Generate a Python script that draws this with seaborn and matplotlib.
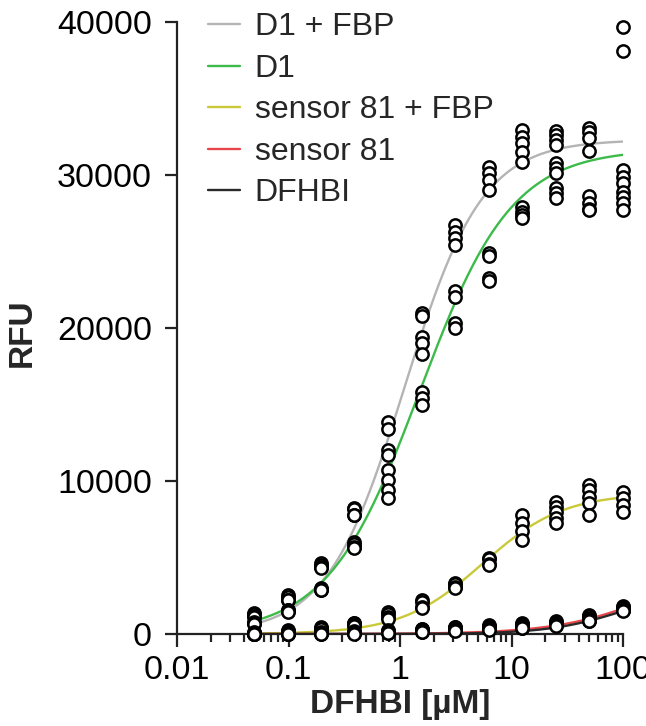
import numpy as np
import pandas as pd
import matplotlib
matplotlib.use("Agg")
import matplotlib.pyplot as plt
import seaborn as sns
from matplotlib.ticker import LogLocator, NullFormatter, FixedLocator, FixedFormatter

# ---------------- data ----------------
conc = [0.049, 0.098, 0.195, 0.39, 0.78, 1.5625, 3.125, 6.25, 12.5, 25, 50, 100]

series_names = ["D1 + FBP", "D1", "sensor 81 + FBP", "sensor 81", "DFHBI"]
series_colors = ["#b4b4b4", "#3dbb4a", "#c9c93a", "#e8464a", "#2a2a2a"]

d1_fbp = [
    [1400, 1300, 1200, 1100],
    [2550, 2400, 2250, 2200],
    [4650, 4500, 4350, 4300],
    [8250, 8150, 7800, 7750],
    [13850, 13400, 12050, 11700],
    [21000, 20800, 19400, 19000],
    [26700, 26300, 25900, 25400],
    [30500, 30100, 29700, 29000],
    [32950, 32500, 32100, 31500, 30850],
    [32900, 32600, 32300, 31950, 30800],
    [33100, 32800, 32400, 31600],
    [39700, 38100, 30300, 29900, 29500],
]
d1 = [
    [800, 750, 700, 650],
    [1600, 1550, 1500, 1450],
    [3000, 2950, 2900, 2850],
    [6000, 5900, 5700, 5650],
    [10700, 10050, 9400, 8900],
    [18300, 15800, 15400, 15000],
    [22400, 22000, 20300, 20000],
    [24900, 24700, 23300, 23100],
    [27900, 27600, 27400, 27200],
    [30450, 30100, 29150, 28800, 28500],
    [28600, 28200, 27800, 27700],
    [28900, 28550, 28150, 27700],
]
s81_fbp = [
    [150, 80, 50, 20],
    [250, 200, 150, 100],
    [450, 400, 350, 300],
    [750, 700, 600, 550],
    [1450, 1300, 1100, 1000],
    [2250, 2100, 1750, 1700],
    [3350, 3250, 3050, 3000],
    [5000, 4900, 4550, 4500],
    [7800, 7250, 6700, 6150],
    [8650, 8300, 7950, 7600, 7250],
    [9750, 9400, 8950, 8550, 7800],
    [9250, 8900, 8450, 8000],
]
s81 = [
    [60, 40, 20, 10],
    [80, 60, 40, 20],
    [120, 90, 60, 40],
    [180, 150, 100, 80],
    [250, 200, 150, 120],
    [350, 300, 250, 200],
    [480, 430, 380, 350],
    [560, 500, 450, 400],
    [750, 680, 620, 580],
    [850, 800, 750, 700],
    [1250, 1150, 1050, 1000],
    [1800, 1750, 1700, 1650],
]
dfhbi = [
    [30, 20, 10, 0],
    [40, 30, 20, 10],
    [60, 40, 30, 20],
    [80, 60, 40, 30],
    [120, 100, 80, 60],
    [200, 170, 150, 120],
    [300, 260, 230, 200],
    [380, 340, 300, 280],
    [500, 450, 400, 380],
    [650, 600, 560, 520],
    [950, 900, 880, 850],
    [1600, 1580, 1550, 1500],
]
series_points = [d1_fbp, d1, s81_fbp, s81, dfhbi]

# fitted dose-response parameters
fit_top = [32300, 31700, 9200, 5000, 3000]
fit_ec50 = [1.1, 1.5, 5.5, 200, 100]
fit_hill = [1.25, 1.05, 1.2, 1.0, 1.3]

# ---------------- frames ----------------
rows = []
for name, pts in zip(series_names, series_points):
    for c, vals in zip(conc, pts):
        for v in vals:
            rows.append((name, c, v))
points_df = pd.DataFrame(rows, columns=["series", "conc", "RFU"])

xs = np.logspace(np.log10(conc[0]), np.log10(conc[-1]), 300)
crow = []
for name, top, ec, n in zip(series_names, fit_top, fit_ec50, fit_hill):
    ys = top * xs**n / (ec**n + xs**n)
    for x, y in zip(xs, ys):
        crow.append((name, x, y))
curve_df = pd.DataFrame(crow, columns=["series", "conc", "RFU"])

# ---------------- plot ----------------
sns.set_style("ticks")
plt.rcParams["font.family"] = ["Liberation Sans", "DejaVu Sans"]

fig = plt.figure(figsize=(6.46, 7.26), dpi=100)
ax = fig.add_axes([177 / 646, 1 - 634 / 726, (623 - 177) / 646, (634 - 22) / 726])

palette = dict(zip(series_names, series_colors))
sns.lineplot(data=curve_df, x="conc", y="RFU", hue="series", hue_order=series_names,
             palette=palette, linewidth=1.7, ax=ax, zorder=2)
sns.scatterplot(data=points_df, x="conc", y="RFU", color="white", edgecolor="black",
                linewidth=1.8, s=78, marker="o", ax=ax, zorder=3, clip_on=False, legend=False)

ax.set_xscale("log")
ax.set_xlim(0.01, 100)
ax.set_ylim(0, 40000)

ax.xaxis.set_major_locator(FixedLocator([0.01, 0.1, 1, 10, 100]))
ax.xaxis.set_major_formatter(FixedFormatter(["0.01", "0.1", "1", "10", "100"]))
ax.xaxis.set_minor_locator(LogLocator(base=10, subs=np.arange(2, 10)))
ax.xaxis.set_minor_formatter(NullFormatter())
ax.set_yticks([0, 10000, 20000, 30000, 40000])
ax.set_yticklabels(["0", "10000", "20000", "30000", "40000"])

for sp in ["top", "right"]:
    ax.spines[sp].set_visible(False)
for sp in ["left", "bottom"]:
    ax.spines[sp].set_linewidth(1.6)
    ax.spines[sp].set_color("#222222")

ax.tick_params(axis="both", which="major", length=9, width=1.6, labelsize=24.5,
               color="#222222", labelcolor="black")
ax.tick_params(axis="x", which="major", pad=6)
ax.tick_params(axis="y", which="major", pad=9)
ax.tick_params(axis="x", which="minor", length=5.5, width=1.6, color="#222222")

ax.set_xlabel("DFHBI [µM]", fontsize=24, fontweight="bold")
ax.set_ylabel("RFU", fontsize=24, fontweight="bold")
ax.xaxis.set_label_coords(0.5, -0.09)
ax.yaxis.set_label_coords(-0.312, 0.493)

leg = ax.legend(loc="upper left", bbox_to_anchor=(0.07, 1.016), frameon=False,
                fontsize=23, handlelength=1.0, handletextpad=0.45, labelspacing=0.36,
                borderaxespad=0, borderpad=0)
for line in leg.get_lines():
    line.set_linewidth(1.7)

fig.savefig("out.png", dpi=100)
